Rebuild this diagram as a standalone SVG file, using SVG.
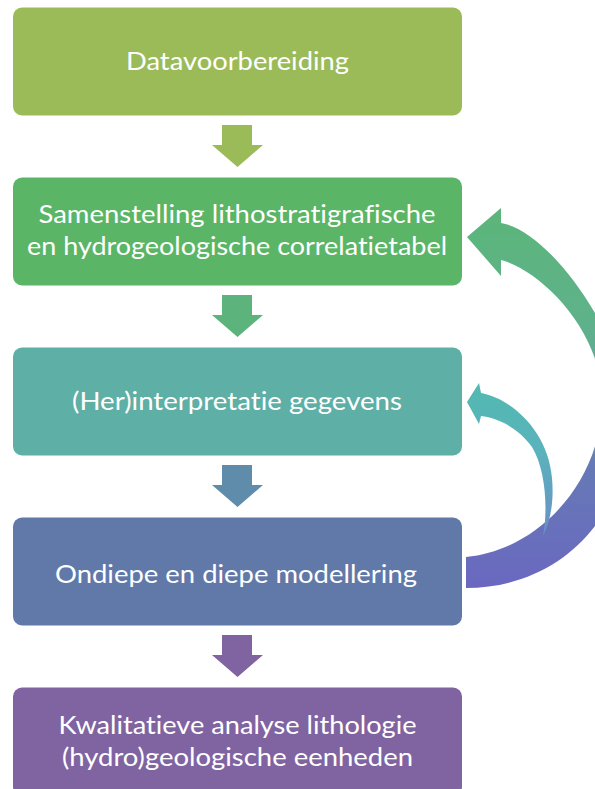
<svg xmlns="http://www.w3.org/2000/svg" width="595" height="789" viewBox="0 0 595 789">
  <defs>
    <style>
      .lbl { font-family: Lato, "Open Sans", "Liberation Sans", sans-serif; font-size: 25px; fill: #ffffff; text-anchor: middle; font-variant-ligatures: none; }
    </style>
    <linearGradient id="gBig" gradientUnits="userSpaceOnUse" x1="0" y1="208" x2="0" y2="588">
      <stop offset="0" stop-color="#5CB57A"/>
      <stop offset="0.3" stop-color="#5EB28A"/>
      <stop offset="0.5" stop-color="#62A5A2"/>
      <stop offset="0.68" stop-color="#6679B6"/>
      <stop offset="1" stop-color="#6A68C0"/>
    </linearGradient>
    <linearGradient id="gSmall" gradientUnits="userSpaceOnUse" x1="0" y1="383" x2="0" y2="535">
      <stop offset="0" stop-color="#52B9B0"/>
      <stop offset="0.45" stop-color="#5AB3BC"/>
      <stop offset="1" stop-color="#6A8FC6"/>
    </linearGradient>
  </defs>

  <g id="connectors">
    <path id="down1" d="M222,125 H252 V145 H263 L237.5,167 L212,145 H222 Z" fill="#9BBB59"/>
    <path id="down2" d="M222,295 H252 V315 H263 L237.5,337 L212,315 H222 Z" fill="#5CB37C"/>
    <path id="down3" d="M222,465 H252 V485 H263 L237.5,507 L212,485 H222 Z" fill="#608CAB"/>
    <path id="down4" d="M222,635 H252 V655 H263 L237.5,677 L212,655 H222 Z" fill="#8064A2"/>
    <path id="loop-big" fill="url(#gBig)" d="M467,237 L501,208 L501,223 C 550,230 628,340 630,420 C 630,510 565,588 466,588 L466,557 C 540,550 602,480 602,400 C 602,330 540,270 501,260 L501,276 Z"/>
    <path id="loop-small" fill="url(#gSmall)" d="M467,402 L479,383 L481,393 C 510,398 548,430 552,478 C 554,500 551,520 543,536 C 548,510 546,470 532,447 C 520,430 500,418 481,416 L479,424 Z"/>
  </g>

  <g id="node1">
    <rect x="13" y="7.5" width="449" height="108" rx="9" fill="#9BBB59"/>
    <text class="lbl" x="237.5" y="70" textLength="223" lengthAdjust="spacingAndGlyphs">Datavoorbereiding</text>
  </g>
  <g id="node2">
    <rect x="13" y="177.5" width="449" height="108" rx="9" fill="#5BB566"/>
    <text class="lbl" x="237" y="223" textLength="397" lengthAdjust="spacingAndGlyphs">Samenstelling lithostratigrafische</text>
    <text class="lbl" x="237" y="255" textLength="420" lengthAdjust="spacingAndGlyphs">en hydrogeologische correlatietabel</text>
  </g>
  <g id="node3">
    <rect x="13" y="347.5" width="449" height="108" rx="9" fill="#5EAFA6"/>
    <text class="lbl" x="237" y="410" textLength="330" lengthAdjust="spacingAndGlyphs">(Her)interpretatie gegevens</text>
  </g>
  <g id="node4">
    <rect x="13" y="517.5" width="449" height="108" rx="9" fill="#6179A9"/>
    <text class="lbl" x="236" y="583" textLength="362" lengthAdjust="spacingAndGlyphs">Ondiepe en diepe modellering</text>
  </g>
  <g id="node5">
    <rect x="13" y="687.5" width="449" height="108" rx="9" fill="#8064A2"/>
    <text class="lbl" x="237.5" y="734" textLength="358" lengthAdjust="spacingAndGlyphs">Kwalitatieve analyse lithologie</text>
    <text class="lbl" x="237.5" y="766" textLength="351" lengthAdjust="spacingAndGlyphs">(hydro)geologische eenheden</text>
  </g>
</svg>
